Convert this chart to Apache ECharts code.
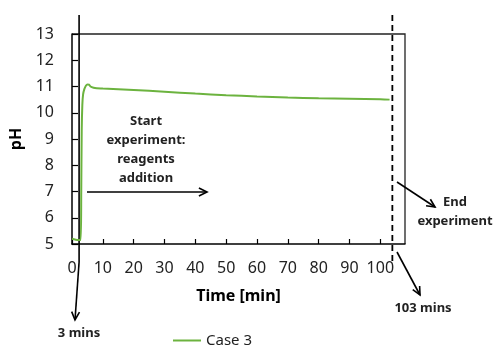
<!DOCTYPE html>
<html>
<head>
<meta charset="utf-8">
<script src="https://cdn.jsdelivr.net/npm/echarts@6/dist/echarts.min.js"></script>
<style>
  html, body { margin: 0; padding: 0; background: #fff; }
  #chart { width: 495px; height: 349px; }
</style>
</head>
<body>
<div id="chart"></div>
<script>
// time [min] and pH for Case 3
const timeMin = [0, 1, 2, 2.8, 3.0, 3.15, 3.35, 3.6, 4.0, 4.5, 5.0, 5.5, 6.0, 7, 8, 10, 20, 30, 40, 50, 60, 70, 80, 90, 100, 103];
const phCase3 = [5.2, 5.17, 5.15, 5.15, 7.0, 9.3, 10.3, 10.7, 10.9, 11.03, 11.08, 11.07, 11.0, 10.95, 10.93, 10.92, 10.87, 10.8, 10.73, 10.67, 10.62, 10.58, 10.55, 10.53, 10.51, 10.5];
const xTickLabels = ["0", "10", "20", "30", "40", "50", "60", "70", "80", "90", "100"];
// annotation marker positions (x-axis values)
const startMarker = 2.3;
const endMarker = 103.9;

const FONT = "Noto Sans";
const chart = echarts.init(document.getElementById("chart"));

chart.setOption({
  animation: false,
  textStyle: { fontFamily: FONT },
  grid: { left: 72, right: 90, top: 34, bottom: 105 },
  xAxis: {
    type: "value",
    min: 0,
    max: 108,
    interval: 10,
    name: "Time [min]",
    nameLocation: "middle",
    nameGap: 44,
    nameTextStyle: { fontSize: 16, fontWeight: "bold", color: "#000" },
    axisLine: { lineStyle: { color: "#000", width: 1.5 } },
    axisTick: { inside: true, length: 5, lineStyle: { color: "#000", width: 1.2 } },
    axisLabel: {
      fontSize: 16, color: "#222", margin: 16, showMaxLabel: false,
      formatter: (v) => (xTickLabels.includes(String(v)) ? String(v) : "")
    },
    splitLine: { show: false }
  },
  yAxis: {
    type: "value",
    min: 5,
    max: 13,
    interval: 1,
    name: "pH",
    nameLocation: "middle",
    nameGap: 44,
    nameTextStyle: { fontSize: 16, fontWeight: "bold", color: "#000" },
    axisLine: { show: true, lineStyle: { color: "#000", width: 1.5 } },
    axisTick: { show: true, inside: true, length: 6, lineStyle: { color: "#000", width: 1.2 } },
    axisLabel: { fontSize: 16, color: "#222", margin: 18 },
    splitLine: { show: false }
  },
  legend: {
    top: 328,
    left: 168,
    itemWidth: 28,
    itemHeight: 2,
    itemGap: 4,
    icon: "rect",
    textStyle: { fontSize: 15, color: "#222", fontFamily: FONT },
    data: ["Case 3"]
  },
  series: [
    {
      name: "Case 3",
      type: "line",
      data: timeMin.map((t, i) => [t, phCase3[i]]),
      showSymbol: false,
      smooth: 0.3,
      lineStyle: { color: "#6cb33f", width: 2 },
      itemStyle: { color: "#6cb33f" }
    }
  ]
});

// arrow made of a shaft and an open head
function arrow(x1, y1, x2, y2) {
  const a = Math.atan2(y2 - y1, x2 - x1);
  const h = 9, s = 0.45;
  return {
    type: "group",
    silent: true,
    children: [
      { type: "line", shape: { x1, y1, x2, y2 }, style: { stroke: "#000", lineWidth: 1.6 } },
      {
        type: "polyline",
        shape: {
          points: [
            [x2 - h * Math.cos(a - s), y2 - h * Math.sin(a - s)],
            [x2, y2],
            [x2 - h * Math.cos(a + s), y2 - h * Math.sin(a + s)]
          ]
        },
        style: { stroke: "#000", lineWidth: 1.6, fill: null }
      }
    ]
  };
}

function label(text, x, y, align) {
  return {
    type: "text",
    silent: true,
    style: {
      text, x, y,
      align: align || "center",
      verticalAlign: "middle",
      fontFamily: FONT,
      fontSize: 13,
      fontWeight: "bold",
      lineHeight: 19,
      fill: "#222"
    }
  };
}

const pTop = chart.convertToPixel({ gridIndex: 0 }, [0, 13]);
const pBot = chart.convertToPixel({ gridIndex: 0 }, [0, 5]);
const pRight = chart.convertToPixel({ gridIndex: 0 }, [108, 13]);
const xs = chart.convertToPixel({ gridIndex: 0 }, [startMarker, 5])[0];
const xe = chart.convertToPixel({ gridIndex: 0 }, [endMarker, 5])[0];

chart.setOption({
  graphic: [
    // plot frame: top and right
    { type: "polyline", silent: true, shape: { points: [[pTop[0], pTop[1]], [pRight[0], pRight[1]], [pRight[0], pBot[1]]] }, style: { stroke: "#222", lineWidth: 1.3, fill: null } },
    // start marker
    { type: "line", silent: true, shape: { x1: xs, y1: 15, x2: xs, y2: 262 }, style: { stroke: "#000", lineWidth: 1.6 } },
    // end marker (dashed)
    { type: "line", silent: true, shape: { x1: xe, y1: 15, x2: xe, y2: 262 }, style: { stroke: "#000", lineWidth: 1.8, lineDash: [6, 4] } },
    arrow(xs, 262, 75, 320),
    arrow(87, 192, 207, 192),
    arrow(397, 182, 435, 207),
    arrow(397, 252, 420, 295),
    label("Start\nexperiment:\nreagents\naddition", 146, 150),
    label("End\nexperiment", 455, 212),
    label("3 mins", 79, 333),
    label("103 mins", 423, 308)
  ]
});
</script>
</body>
</html>
